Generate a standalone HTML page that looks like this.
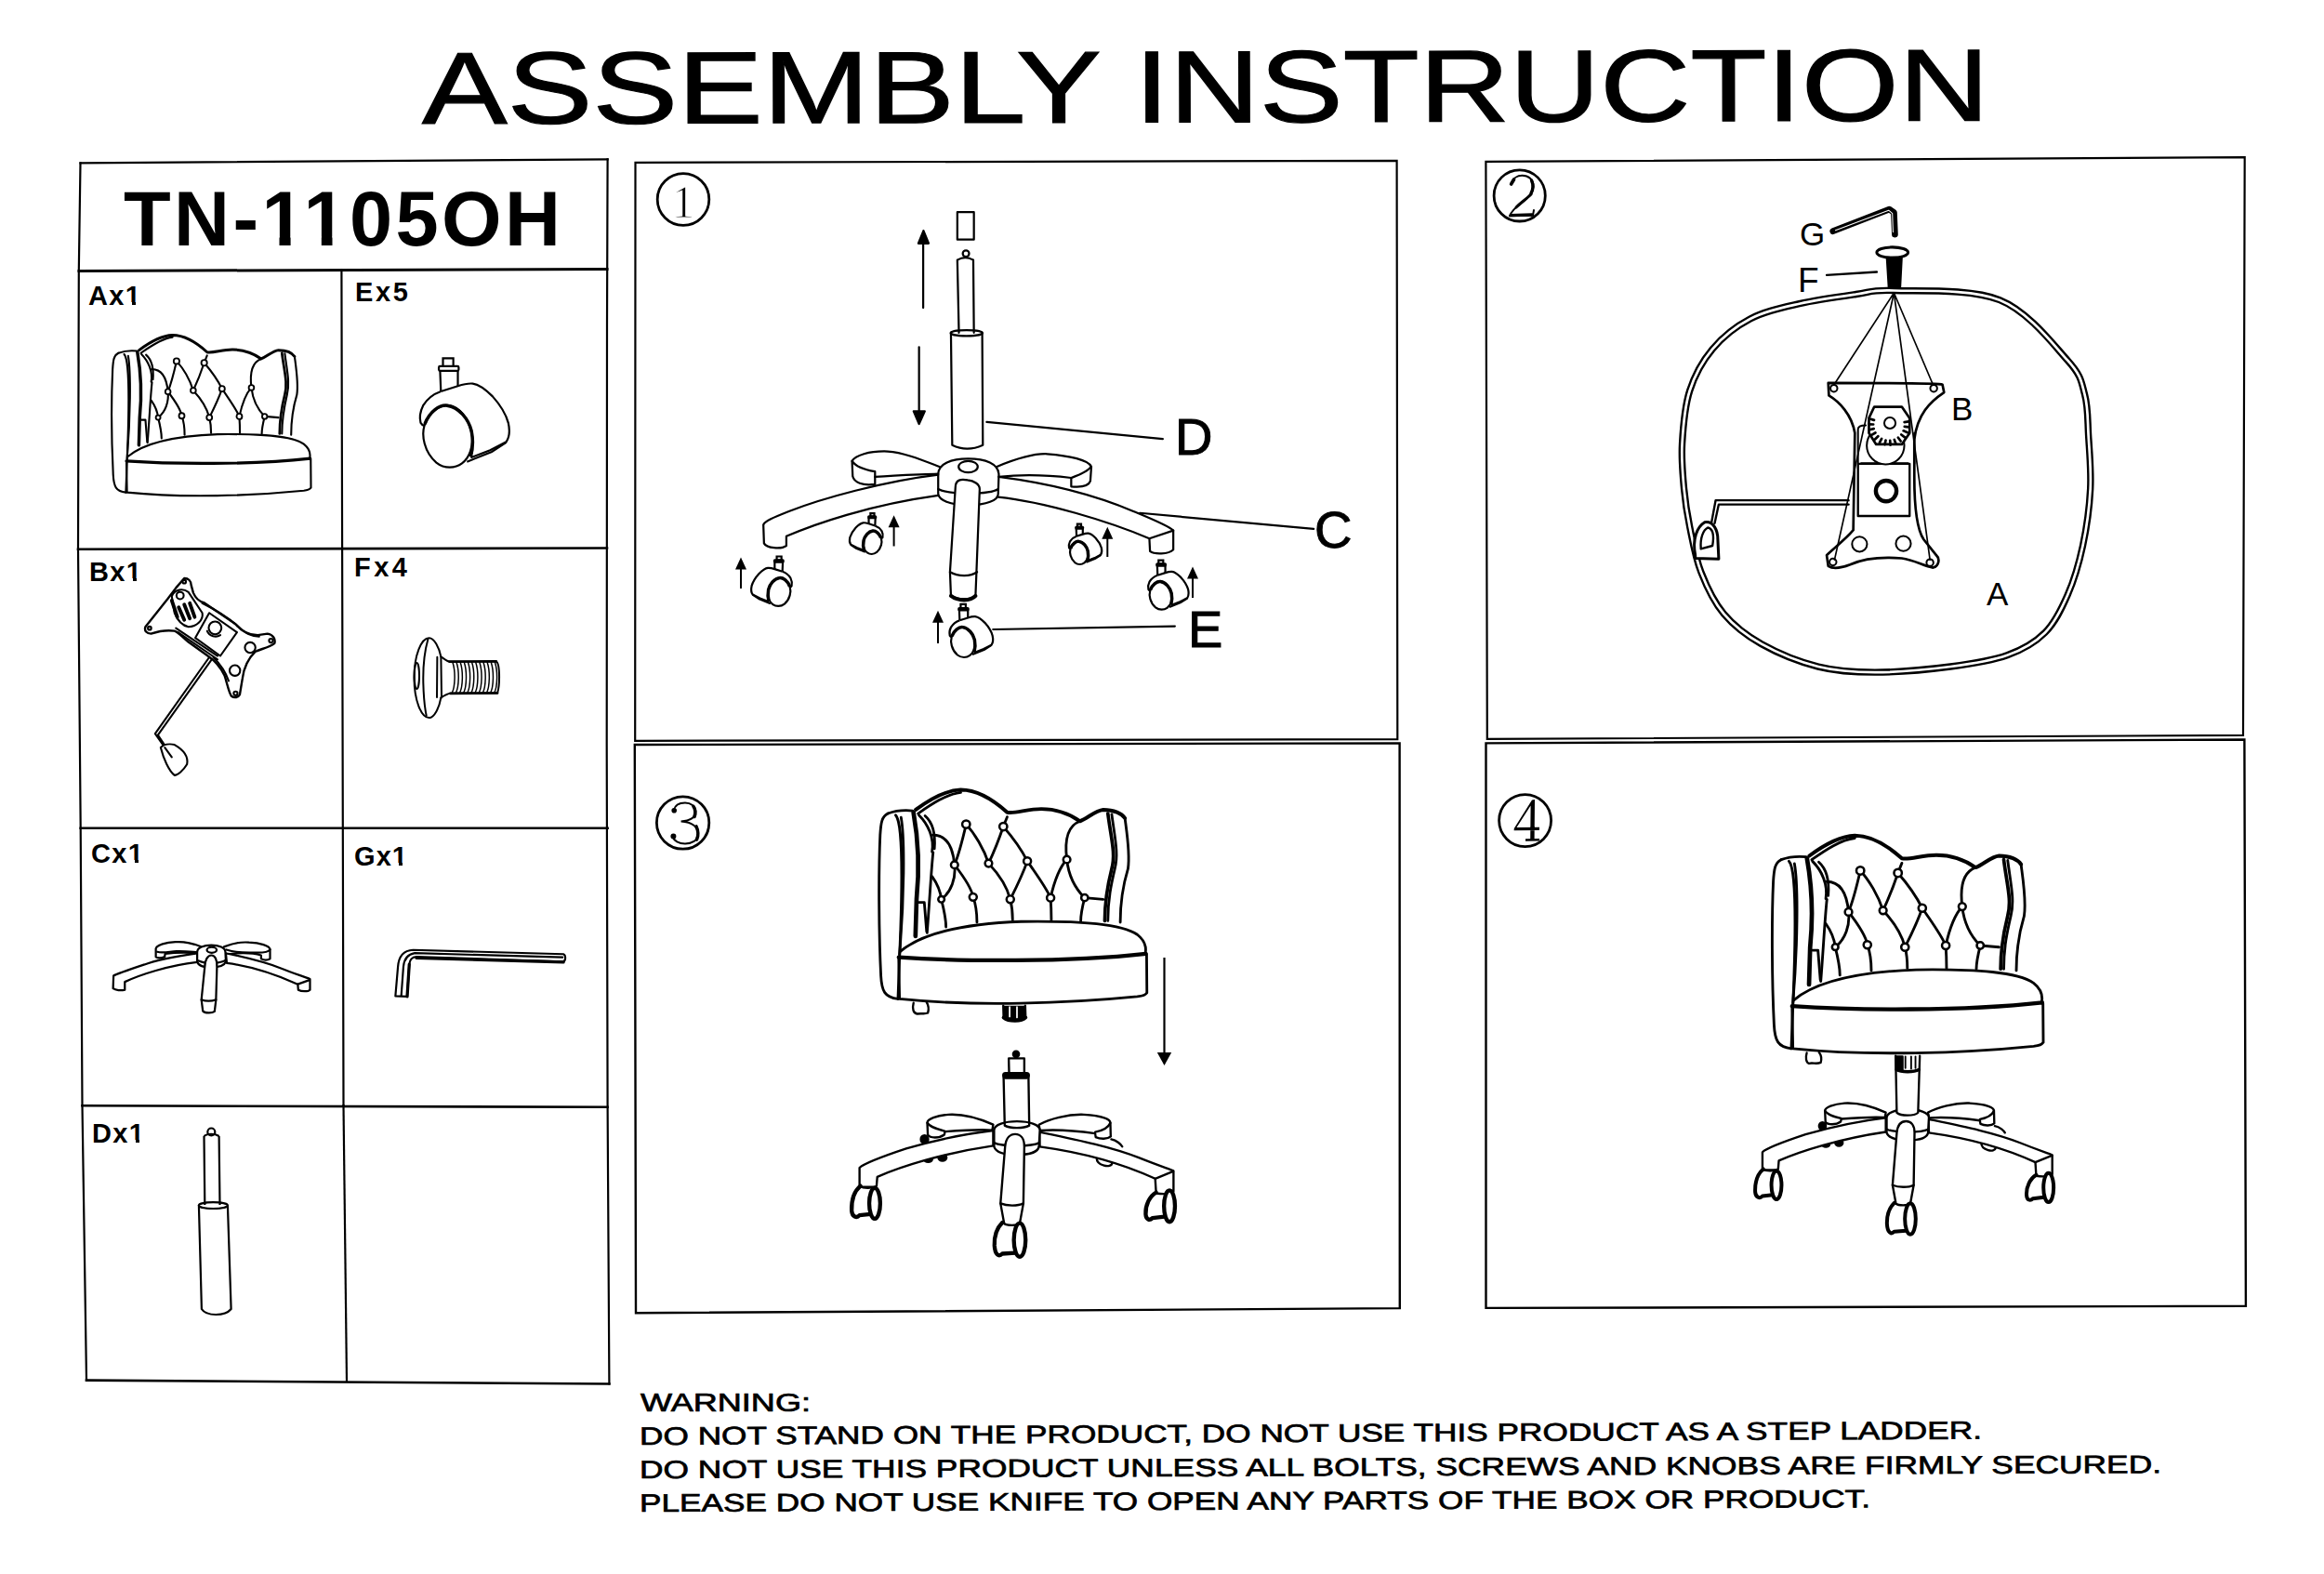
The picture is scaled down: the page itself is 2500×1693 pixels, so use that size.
<!DOCTYPE html>
<html><head><meta charset="utf-8">
<style>
html,body{margin:0;padding:0;background:#fff;width:2500px;height:1693px;overflow:hidden}
svg{position:absolute;left:0;top:0}
#caster *{vector-effect:non-scaling-stroke;stroke-width:2.2px}
#caster path:nth-of-type(5){stroke-width:3.5px;fill:none}
#caster path:nth-of-type(1),#caster path:nth-of-type(6){fill:none}
</style></head><body>
<svg width="2500" height="1693" viewBox="0 0 2500 1693">
<rect x="0" y="0" width="2500" height="1693" fill="#fff"/>
<defs>
<g id="caster">
<rect x="410" y="120" width="125" height="100" />
<rect x="360" y="215" width="240" height="55" rx="15"/>
<path d="M375,270 L385,520 M590,270 L590,455"/>
<path d="M385,520 L590,455 C650,435 700,420 770,425 C850,435 930,500 1010,580 C1100,680 1170,790 1200,900 C1220,990 1210,1080 1175,1130 L980,1230 L745,1320"/>
<path d="M385,520 C300,550 220,610 170,690 C135,760 125,840 140,900 C150,920 165,930 185,935"/>
<path d="M185,935 C150,1050 180,1250 330,1380 C430,1460 560,1450 640,1390 C730,1320 780,1180 760,1050 C740,900 650,750 530,700 C420,660 260,720 185,935 Z"/>
<path d="M190,915 C250,760 370,680 460,690 C600,710 720,850 755,1000 C775,1100 770,1220 745,1310" stroke-width="4.5"/>
<path d="M700,1370 L1000,1250 L1175,1135"/>
</g>
<g id="chair" fill="none" stroke="#000" stroke-width="17" stroke-linejoin="round" stroke-linecap="round">
<path d="M140,240 C100,260 95,300 90,380 C80,600 80,1000 95,1300 C100,1400 120,1440 205,1450"/>
<path d="M140,240 C180,225 230,215 300,222"/>
<path d="M190,250 C235,300 235,600 222,1000 L205,1450"/>
<path d="M225,265 C250,400 245,800 215,1160"/>
<path d="M305,232 C335,400 345,600 325,800 L318,1040" stroke-width="28"/>
<path d="M320,215 C420,140 520,88 610,85 C720,85 820,150 910,232 C960,242 1040,210 1130,210 C1230,210 1310,240 1380,290 C1430,270 1480,220 1530,215 C1600,215 1650,240 1670,270" stroke-width="24"/>
<path d="M335,240 C420,180 520,112 610,102"/>
<path d="M1670,270 C1680,350 1705,500 1690,600 C1660,700 1640,800 1640,950"/>
<path d="M1560,240 C1580,400 1612,500 1585,600 C1560,700 1540,800 1540,940" stroke-width="22"/>
<path d="M1585,245 C1605,400 1630,500 1605,600 C1582,700 1560,800 1560,940"/>
<path d="M340,250 C400,310 440,400 425,490"/>
<path d="M380,255 C420,290 450,350 440,470"/>
<path d="M430,380 C520,380 560,460 570,575 C580,660 550,750 485,800"/>
<path d="M340,820 L375,820 L390,1010"/>
<path d="M432,494 C420,600 410,800 393,1019"/>
<path d="M645,310 C620,420 600,500 570,575 M645,310 C700,370 760,470 790,565 M885,325 C860,400 830,480 790,565 M885,325 C950,400 1000,470 1040,550 M910,262 L885,325"/>
<path d="M570,575 C620,640 680,720 690,785 M790,565 C860,640 910,720 930,800 M1040,550 C1010,640 960,740 930,800 M1040,550 C1100,640 1160,720 1190,790 M1295,540 C1240,600 1210,700 1190,790"/>
<path d="M1380,290 C1300,320 1280,420 1295,540 C1310,680 1380,760 1410,790 L1530,800"/>
<path d="M425,650 C460,700 480,750 485,800 C500,860 515,920 515,980 M690,785 C710,840 715,900 715,950 M930,800 C945,860 945,900 945,935 M1190,790 C1195,860 1195,900 1195,935 M1410,790 C1395,850 1385,900 1385,940"/>
<g fill="#fff" stroke-width="15">
<circle cx="645" cy="310" r="25"/><circle cx="885" cy="325" r="25"/><circle cx="570" cy="575" r="23"/><circle cx="790" cy="565" r="23"/><circle cx="1040" cy="550" r="24"/><circle cx="1295" cy="540" r="23"/><circle cx="485" cy="800" r="20"/><circle cx="690" cy="785" r="24"/><circle cx="930" cy="800" r="24"/><circle cx="1190" cy="790" r="24"/><circle cx="1410" cy="790" r="22"/>
</g>
<path d="M220,1140 C350,1030 600,960 1000,945 C1400,940 1650,960 1750,1030 C1800,1070 1810,1120 1800,1160"/>
<path d="M210,1178 C600,1205 1300,1212 1805,1155" stroke-width="26"/>
<path d="M210,1190 L215,1450 M1810,1160 L1812,1410 C1800,1425 1790,1430 1750,1435 C1300,1480 700,1500 215,1450"/>
</g>

<g id="base">
<path d="M855,760 C800,735 700,700 610,705 C545,710 495,730 495,750 L498,815 C510,835 560,835 588,815 L592,798 C700,790 780,785 850,790 Z" fill="#fff"/>
<path d="M495,750 C510,775 550,785 590,795"/>
<path d="M1105,760 C1160,730 1260,702 1350,705 C1430,710 1495,725 1495,750 L1497,825 C1480,840 1440,840 1415,828 L1412,808 C1300,792 1200,786 1110,792 Z" fill="#fff"/>
<path d="M1495,750 C1480,785 1440,795 1412,800"/>
<ellipse cx="500" cy="948" rx="22" ry="16" fill="#000"/><ellipse cx="578" cy="940" rx="22" ry="18" fill="#000"/>
<ellipse cx="480" cy="840" rx="20" ry="22" fill="#000"/>
<path d="M1420,940 C1420,985 1500,1000 1505,970" />
<path d="M1500,840 C1530,845 1555,870 1560,880"/>
<path d="M855,792 C700,810 520,850 380,890 C260,930 150,970 125,995 L125,1095 C150,1110 195,1108 218,1095 L222,1045 C350,990 580,915 855,875 Z" fill="#fff"/>
<path d="M1108,800 C1300,840 1500,880 1650,940 C1750,980 1810,1000 1840,1012 L1840,1125 C1820,1140 1780,1140 1745,1135 L1740,1055 C1600,990 1400,920 1110,880 Z" fill="#fff"/>
<path d="M1740,1055 L1838,1015"/>
<path d="M860,790 C860,760 920,742 985,742 C1050,742 1110,760 1110,790 L1105,880 C1100,910 1050,925 985,925 C920,925 870,910 860,880 Z" fill="#fff"/>
<path d="M862,860 C900,880 1070,880 1105,860"/>
<path d="M915,1300 L895,1190 L920,880 C925,830 950,812 975,812 C1005,812 1025,835 1025,880 L1020,1190 L1000,1300 C985,1312 930,1312 915,1300 Z" fill="#fff"/>
<path d="M895,1190 C930,1205 990,1205 1020,1190"/>
<path d="M130,1095 C100,1120 80,1170 82,1230 C85,1265 110,1272 125,1255 L185,1248" stroke-width="22"/>
<path d="M130,1100 L205,1100"/>
<ellipse cx="208" cy="1190" rx="30" ry="84" stroke-width="22" fill="#fff"/>
<path d="M905,1295 C880,1320 860,1360 862,1420 C865,1470 885,1485 905,1465 L975,1460" stroke-width="22"/>
<ellipse cx="1000" cy="1390" rx="32" ry="92" stroke-width="22" fill="#fff"/>
<path d="M1745,1130 C1710,1150 1685,1200 1688,1250 C1690,1280 1710,1285 1725,1270 L1790,1262" stroke-width="22"/>
<ellipse cx="1818" cy="1205" rx="30" ry="86" stroke-width="22" fill="#fff"/>
</g>
</defs>

<!-- title -->
<text x="454" y="133" font-family="Liberation Sans" font-size="110" textLength="731" lengthAdjust="spacingAndGlyphs" fill="#000" stroke="#000" stroke-width="1.2" transform="rotate(-0.1 454 133)">ASSEMBLY</text>
<text x="1220.5" y="131.5" font-family="Liberation Sans" font-size="110" textLength="919.3" lengthAdjust="spacingAndGlyphs" fill="#000" stroke="#000" stroke-width="1.2" transform="rotate(-0.12 1220 131.5)">INSTRUCTION</text>

<!-- parts table lines -->
<g fill="none" stroke="#000" stroke-width="2.2" stroke-linecap="square">
<polyline points="86.5,175.4 84.8,291 84,590 86.7,890 88.5,1189 93,1484.6"/>
<polyline points="653.6,171.3 653,350 652.7,800 653.6,1189 655.4,1488.5"/>
<line x1="86.5" y1="175.4" x2="653.6" y2="171.3"/>
<line x1="85" y1="291.5" x2="653" y2="289.4" stroke-width="3"/>
<line x1="367.4" y1="290" x2="369.5" y2="1189"/>
<line x1="369.5" y1="1189" x2="373" y2="1486"/>
<line x1="84" y1="590.8" x2="653" y2="589.5" stroke-width="2.6"/>
<line x1="86.7" y1="890.8" x2="653.6" y2="890.7" stroke-width="2.6"/>
<line x1="88.5" y1="1189.3" x2="653.6" y2="1190.7" stroke-width="2.6"/>
<line x1="93" y1="1484.6" x2="655.4" y2="1488.5" stroke-width="2.6"/>
</g>
<!-- step boxes -->
<g fill="none" stroke="#000" stroke-width="2.2" stroke-linejoin="miter">
<polygon points="683.5,174.8 1502.6,172.9 1503.3,795.1 683.2,796.8"/>
<polygon points="682.8,801 1505.6,799.4 1505.8,1407.1 684,1412.3" stroke-width="2.4"/>
<polygon points="1598.4,173.8 2414.7,169.2 2413,790.9 1599.8,794.9"/>
<polygon points="1598.5,799.4 2414.4,795.5 2415.9,1404.8 1598.5,1406.9" stroke-width="2.4"/>
</g>
<!-- model -->
<text x="133" y="264" font-family="Liberation Sans" font-weight="bold" font-size="83" textLength="470" lengthAdjust="spacing" fill="#000">TN-1105OH</text>
<g fill="#fff"><rect x="285" y="254.5" width="15.5" height="11"/><rect x="312.6" y="254.5" width="14" height="11"/><rect x="330.5" y="254.5" width="15.3" height="11"/><rect x="357.5" y="254.5" width="14" height="11"/></g>
<!-- labels -->
<g font-family="Liberation Sans" font-weight="bold" font-size="29" fill="#000">
<text x="95" y="327.5" textLength="56" lengthAdjust="spacing">Ax1</text>
<text x="382" y="324" textLength="57" lengthAdjust="spacing">Ex5</text>
<text x="96" y="625" textLength="56" lengthAdjust="spacing">Bx1</text>
<text x="381" y="620" textLength="57" lengthAdjust="spacing">Fx4</text>
<text x="98" y="927.5" textLength="56" lengthAdjust="spacing">Cx1</text>
<text x="381" y="931" textLength="57" lengthAdjust="spacing">Gx1</text>
<text x="99" y="1229" textLength="56" lengthAdjust="spacing">Dx1</text>
</g>
<g fill="#fff"><rect x="136" y="325" width="6" height="4"/><rect x="146" y="325" width="5" height="4"/><rect x="137" y="622" width="6" height="4"/><rect x="147" y="622" width="5" height="4"/><rect x="139" y="925" width="6" height="4"/><rect x="149" y="925" width="5" height="4"/><rect x="423" y="928" width="6" height="4"/><rect x="433" y="928" width="5" height="4"/><rect x="140" y="1226" width="6" height="4"/><rect x="150" y="1226" width="5" height="4"/></g>
<!-- circled numbers -->
<g fill="none" stroke="#000" stroke-width="2.8">
<circle cx="735" cy="214.5" r="27.8"/>
<circle cx="1634.7" cy="210.4" r="27.6"/>
<circle cx="734.6" cy="885" r="28.2"/>
<circle cx="1640.6" cy="882.6" r="28"/>
</g>
<g font-family="Liberation Serif" fill="#000" text-anchor="middle" stroke="#fff" stroke-width="1.2">
<text x="735" y="234" font-size="50">1</text>



</g>
<g fill="#000"><path d="M1648,860.5 L1651,860 L1650.6,903 L1646.2,903 L1646.6,866.5 L1631.5,890 L1656,889.8 L1655.8,893 L1628.6,893.2 L1628.8,891 Z"/><path d="M1641,902.3 L1656,902.1 L1656.2,904.6 L1641,904.8 Z"/></g>
<g fill="none" stroke="#000" stroke-width="2" stroke-linecap="round">
<path d="M724.9,871.5 C726,866 731,863.5 737,863.5 C743,863.5 748.2,867 748.2,873 C748.2,879 743,882.6 732.6,883.5 C745,884 751,890 751,897.2 C751,904 744,907.5 737,907.5 C730,907.5 725,904 723.7,900.4"/>
<path d="M746,867.5 C748,870 748.6,875 747,878.5 M749,889 C751,893 751.5,899 749.5,903" stroke-width="3.6"/>
<circle cx="725.2" cy="871.8" r="1.8" fill="#000"/><circle cx="724.4" cy="899.5" r="2" fill="#000"/>
<path d="M1626,196.5 C1627.5,192 1632,188.8 1637.5,188.8 C1644,188.8 1649.6,193 1649.6,200.7 C1649.6,207 1645,212 1637,218 C1629,224 1625,229 1624.2,232.3 L1649,231.6 L1650,226"/>
<path d="M1647,209 C1642,214 1636,218 1631,223" stroke-width="3"/>
<path d="M1647.5,194 C1649.5,198 1649.5,204 1647,208 M1625,231.6 L1648,231" stroke-width="3.4"/>
<path d="M1625.6,198 L1628.6,193" stroke-width="3.6"/>
</g>
<!-- warning -->
<g font-family="Liberation Sans" font-size="27" fill="#000" stroke="#000" stroke-width="0.7">
<text x="689" y="1518" textLength="183" lengthAdjust="spacingAndGlyphs">WARNING:</text>
<text x="688" y="1554" textLength="1444" lengthAdjust="spacingAndGlyphs" transform="rotate(-0.25 688 1554)">DO NOT STAND ON THE PRODUCT, DO NOT USE THIS PRODUCT AS A STEP LADDER.</text>
<text x="688" y="1590" textLength="1637" lengthAdjust="spacingAndGlyphs" transform="rotate(-0.2 688 1590)">DO NOT USE THIS PRODUCT UNLESS ALL BOLTS, SCREWS AND KNOBS ARE FIRMLY SECURED.</text>
<text x="688" y="1626" textLength="1324" lengthAdjust="spacingAndGlyphs" transform="rotate(-0.2 688 1626)">PLEASE DO NOT USE KNIFE TO OPEN ANY PARTS OF THE BOX OR PRODUCT.</text>
</g>
<!--DRAWINGS-->


<!-- chairs -->
<g fill="none" stroke="#000" stroke-width="17" stroke-linejoin="round" stroke-linecap="round">
<use href="#chair" transform="translate(110,350) scale(0.1239)"/>
<use href="#chair" transform="translate(931.8,835.5) scale(0.16665,0.16479)"/>
<use href="#chair" transform="translate(1892.4,884.4) scale(0.16867,0.16789)"/>
</g>
<!-- step3 base -->
<g transform="translate(900,1060) scale(0.19695)" fill="none" stroke="#000" stroke-width="12" stroke-linejoin="round" stroke-linecap="round">
<use href="#base"/>
<circle cx="980" cy="375" r="16" fill="#000"/>
<path d="M940,398 L942,480 L1025,480 L1025,398 Z" fill="#fff"/>
<rect x="910" y="478" width="140" height="27" rx="12" fill="#000"/>
<path d="M912,505 L918,765 C950,782 1020,782 1052,765 L1048,505"/>
<path d="M420,95 C412,125 418,152 440,155 C465,150 480,158 498,150 C505,130 500,105 490,88"/>
<path d="M910,110 L912,175 C940,198 1010,198 1032,175 L1030,110" fill="#000"/>
<path d="M945,118 L945,170 M985,118 L985,175" stroke="#fff" stroke-width="9"/>
<path d="M912,175 C940,198 1010,198 1032,175" stroke-width="20"/>
</g>
<g fill="none" stroke="#000" stroke-width="2.2"><line x1="1252.5" y1="1030" x2="1252.5" y2="1134"/></g>
<path d="M1252.5,1146 l-7.7,-14 h15.4 Z" fill="#000"/>
<!-- step4 base -->
<g transform="translate(1873.2,1058.4) scale(0.18178)" fill="none" stroke="#000" stroke-width="13" stroke-linejoin="round" stroke-linecap="round">
<use href="#base"/>
</g>
<g transform="translate(1870,1110) scale(0.15491)" fill="none" stroke="#000" stroke-width="15" stroke-linejoin="round" stroke-linecap="round">
<path d="M1092,165 L1100,560 C1130,585 1220,585 1248,560 L1260,165" fill="#fff"/>
<path d="M1095,170 L1095,260 L1140,262 L1140,170 Z" fill="#000"/>
<path d="M1160,170 L1160,250 M1200,170 L1200,255 M1230,170 L1230,250" stroke-width="12"/>
<path d="M1098,262 C1130,280 1220,280 1255,262" stroke-width="22"/>
<path d="M475,145 C465,180 470,212 490,218 C520,212 545,225 572,212 C580,185 575,160 560,140"/>
</g>

<!-- STEP2 -->
<g transform="translate(1790,210) scale(0.33661)" fill="none" stroke="#000" stroke-width="6" stroke-linejoin="round" stroke-linecap="round">
<g stroke-width="22"><path id="seat2" d="M734.5,304.5 C811.0,307.5 980.1,297.5 1072.7,334.7 C1165.3,371.9 1244.8,477.6 1290.1,527.9 C1335.4,578.2 1333.4,596.3 1344.5,636.6 C1355.6,676.9 1353.6,719.2 1356.6,769.5 C1359.6,819.8 1365.6,880.2 1362.6,938.6 C1359.6,997.0 1350.5,1063.4 1338.4,1119.8 C1326.3,1176.2 1310.2,1230.5 1290.1,1276.8 C1270.0,1323.1 1249.9,1365.4 1217.7,1397.6 C1185.5,1429.8 1147.2,1451.9 1096.9,1470.0 C1046.6,1488.1 986.2,1497.2 915.7,1506.3 C845.2,1515.4 744.6,1524.4 674.1,1524.4 C603.6,1524.4 553.3,1521.4 492.9,1506.3 C432.5,1491.2 362.0,1462.2 311.7,1434.0 C261.4,1405.8 223.1,1375.5 190.9,1337.2 C158.7,1298.9 136.6,1250.7 118.5,1204.4 C100.4,1158.1 91.3,1103.7 82.2,1059.4 C73.1,1015.1 68.1,982.9 64.1,938.6 C60.1,894.3 55.1,846.0 58.1,793.7 C61.1,741.4 66.1,674.9 82.2,624.6 C98.3,574.3 122.5,530.0 154.7,491.7 C186.9,453.4 229.2,419.3 275.5,395.1 C321.8,370.9 376.1,359.8 432.5,346.7 C488.9,333.6 563.4,323.5 613.7,316.5 C664.0,309.5 658.0,301.5 734.5,304.5 Z"/></g>
<use href="#seat2" stroke="#fff" stroke-width="8"/>
<path d="M590,975 L165,975 L152,1045 M590,988 L175,988 L162,1048" stroke-width="7"/>
<path d="M100,1150 C90,1100 105,1060 130,1045 C158,1040 172,1070 172,1100 L175,1162 L100,1160 Z" stroke-width="9" fill="#fff"/>
<path d="M118,1130 C115,1095 125,1070 140,1062 C158,1065 160,1090 155,1120 Z" stroke-width="7"/>
<path d="M525,600 L527,640 C560,660 600,700 610,760 L605,1070 C580,1100 540,1130 520,1150 L525,1185 C540,1195 570,1190 595,1180 C640,1160 700,1155 760,1160 C800,1165 830,1185 860,1190 C880,1185 882,1160 870,1150 L830,1100 C810,1070 800,1000 800,900 L800,780 C810,700 850,660 895,630 L890,605 C880,600 540,600 525,600 Z" stroke-width="8" fill="#fff"/>
<circle cx="543" cy="617" r="11"/><circle cx="862" cy="617" r="11"/><circle cx="540" cy="1172" r="11"/><circle cx="850" cy="1174" r="11"/>
<circle cx="625" cy="1115" r="24"/><circle cx="765" cy="1113" r="24"/>
<rect x="620" y="858" width="165" height="167" stroke-width="7"/>
<circle cx="710" cy="945" r="33" stroke-width="13"/>
<path d="M620,855 L620,748 C620,738 630,735 645,735 M800,858 L800,760 M630,856 L780,856"/>
<circle cx="708" cy="800" r="60" fill="#fff"/>
<path d="M672,676 L760,676 L785,712 L785,760 L760,796 L678,796 L655,760 L655,712 Z" fill="#fff" stroke-width="8"/>
<path d="M768.2,725.3 L782.0,722.9 M768.7,739.2 L782.6,740.7 M765.4,752.7 L778.3,758.0 M758.4,764.8 L769.4,773.4 M748.4,774.5 L756.6,785.8 M736.1,781.0 L740.9,794.1 M722.5,783.9 L723.5,797.8 M708.6,782.9 L705.7,796.6 M695.5,778.1 L689.0,790.5 M684.3,770.0 L674.5,780.0 M675.7,759.0 L663.6,766.0 M670.5,746.1 L656.9,749.5 M669.0,732.3 L655.0,731.8 M671.4,718.5 L658.1,714.2" stroke-width="8"/>
<circle cx="722" cy="728" r="18"/>
<path d="M735,312 L543,606 M735,312 L860,606 M735,312 L545,1165 M735,312 L850,1165" stroke-width="5"/>
<ellipse cx="730" cy="183" rx="50" ry="17" stroke-width="9" fill="#fff"/>
<path d="M712,198 L718,295 L755,295 L760,198 Z" fill="#000"/>
<path d="M520,255 L680,245" stroke-width="7"/>
<path d="M540,115 L720,45 L735,55 L738,125" stroke-width="20"/>
<path d="M548,112 L718,48 L730,58 L732,118" stroke-width="3" stroke="#fff"/>
</g>
<g font-family="Liberation Sans" fill="#000">
<text x="1936" y="264" font-size="35">G</text>
<text x="1934" y="314" font-size="37">F</text>
<text x="2099" y="452" font-size="35">B</text>
<text x="2137" y="651" font-size="35">A</text>
</g>

<!-- PART B -->
<g transform="translate(140,610) scale(0.14925)" fill="none" stroke="#000" stroke-width="14" stroke-linejoin="round" stroke-linecap="round">
<path d="M390,80 C420,80 440,100 440,130 L455,185 C470,220 490,245 530,255 L760,410 C800,460 850,490 920,490 L990,480 C1030,485 1050,520 1040,550 C1000,580 940,590 900,610 C850,660 820,720 810,800 L790,920 C780,940 750,945 730,930 C710,900 700,840 680,780 C650,720 620,680 560,640 L420,540 C380,510 350,470 320,460 C250,450 180,470 150,480 C120,480 100,460 110,430 L270,230 L330,150 Z" stroke-width="16"/>
<circle cx="140" cy="440" r="12"/><circle cx="390" cy="105" r="12"/><circle cx="1015" cy="530" r="14"/><circle cx="760" cy="910" r="14"/>
<circle cx="865" cy="580" r="38"/><circle cx="755" cy="745" r="38"/>
<path d="M520,260 C600,300 700,360 770,420 C820,470 880,500 930,500"/>
<path d="M600,650 C650,700 690,760 710,820"/>
<path d="M470,510 L570,330 L770,470 L650,640 Z"/>
<circle cx="612" cy="438" r="46"/>
<path d="M555,460 C570,500 620,510 650,490"/>
<path d="M330,440 L630,640 M345,470 L630,665"/>
<path d="M300,210 C320,160 380,150 420,180 L520,330 C530,380 480,430 420,430 C370,420 340,380 320,330 Z" fill="#fff"/>
<circle cx="360" cy="205" r="26"/>
<path d="M300,240 L340,360 M350,290 L390,380 M390,270 L430,370 M430,260 L465,360" stroke-width="26"/>
<path d="M570,650 L180,1200 L240,1285 M590,662 L200,1210 L255,1292"/>
<path d="M220,1300 C240,1280 280,1270 320,1280 C390,1320 420,1370 410,1420 C380,1470 340,1500 320,1500 C280,1470 240,1380 220,1300 Z" fill="#fff"/>
<path d="M250,1300 L300,1370"/>
</g>

<!-- PART F -->
<g transform="translate(435,675) scale(0.06671)" fill="none" stroke="#000" stroke-width="30" stroke-linejoin="round" stroke-linecap="round">
<path d="M400,168 C270,168 158,450 158,810 C158,1170 270,1455 400,1455 C480,1455 560,1300 590,1130 L600,1130 L590,470 C560,320 480,168 400,168 Z"/>
<path d="M380,190 C320,400 300,700 305,900 C310,1100 330,1300 355,1420"/>
<path d="M530,475 L525,1125"/>
<ellipse cx="200" cy="780" rx="40" ry="210"/>
<path d="M590,470 C650,510 690,545 730,550 L1480,545 C1510,560 1530,640 1530,800 C1530,900 1520,1000 1500,1055 L740,1062 C700,1065 640,1100 590,1130"/>
<path d="M780,565 C825,700 820,950 770,1050 M842,565 C887,700 882,950 832,1050 M904,565 C949,700 944,950 894,1050 M966,565 C1011,700 1006,950 956,1050 M1028,565 C1073,700 1068,950 1018,1050 M1090,565 C1135,700 1130,950 1080,1050 M1152,565 C1197,700 1192,950 1142,1050 M1214,565 C1259,700 1254,950 1204,1050 M1276,565 C1321,700 1316,950 1266,1050 M1338,565 C1383,700 1378,950 1328,1050 M1400,565 C1445,700 1440,950 1390,1050 M1462,565 C1507,700 1502,950 1452,1050" stroke-width="22"/>
<path d="M730,550 L1480,545 M740,1062 L1500,1055" stroke-width="40"/>
</g>

<!-- PART C -->
<g transform="translate(110,1000) scale(0.10112)" fill="none" stroke="#000" stroke-width="22" stroke-linejoin="round" stroke-linecap="round">
<path d="M1045,178 C950,140 850,125 780,130 C680,135 580,160 570,200 L570,290 C590,302 630,302 665,288 L668,255 C750,245 850,238 1010,248" fill="#fff"/>
<path d="M585,235 C640,250 700,235 790,228 C880,225 950,235 1010,240"/>
<path d="M1295,182 C1400,140 1500,130 1560,135 C1680,140 1780,170 1785,210 L1785,310 C1760,325 1720,325 1690,310 L1690,272 C1600,245 1500,238 1320,262" fill="#fff"/>
<path d="M1320,212 C1400,240 1500,245 1600,243 C1700,248 1770,240 1785,210"/>
<path d="M1010,250 C800,280 600,310 450,370 C300,420 150,470 120,490 L115,625 C140,645 200,650 240,640 L240,555 C400,480 700,380 1010,345 Z" fill="#fff"/>
<path d="M1315,250 C1500,290 1700,330 1900,410 C2050,470 2150,500 2210,525 L2210,640 C2190,660 2120,660 2085,640 L2080,580 C1900,500 1600,390 1325,355 Z" fill="#fff"/>
<path d="M2080,580 L2205,535"/>
<path d="M1010,240 C1010,190 1080,165 1160,165 C1240,165 1310,190 1310,240 L1315,340 C1300,380 1240,400 1160,400 C1080,400 1020,380 1010,340 Z" fill="#fff"/>
<ellipse cx="1165" cy="215" rx="52" ry="30"/>
<path d="M1020,330 C1050,345 1080,350 1100,352 M1215,352 C1260,345 1300,335 1315,322"/>
<path d="M1055,745 L1090,400 C1090,320 1125,272 1160,272 C1200,272 1225,320 1220,400 L1210,745 L1195,870 C1170,890 1090,890 1070,865 Z" fill="#fff"/>
<path d="M1055,745 C1100,760 1160,760 1210,745"/>
</g>

<!-- PART G -->
<g transform="translate(410,1010) scale(0.09036)" fill="none" stroke="#000" stroke-width="24" stroke-linejoin="round" stroke-linecap="round">
<path d="M170,680 L200,330 C210,200 280,135 380,130 L2170,180 C2200,190 2200,260 2170,270 L420,210 C370,215 340,250 335,300 L310,685 Z"/>
<path d="M240,672 L265,330 C275,230 320,180 400,168 L2160,218"/>
<path d="M420,225 L2170,275 M335,300 L310,685" stroke-width="36"/>
</g>
<!-- PART D -->
<g fill="none" stroke="#000" stroke-width="2.2" stroke-linejoin="round">
<circle cx="227.3" cy="1217.5" r="4"/>
<path d="M219.5,1222 C223,1219 231,1219 235.6,1222 M219.5,1222 L220.3,1296 M235.6,1222 L236.5,1296"/>
<path d="M213.9,1296 L216.9,1408 C222,1416 242,1416 248.6,1408 L244.9,1296"/>
<ellipse cx="229.4" cy="1296.6" rx="15.5" ry="3.4"/>
</g>
<!-- STEP1 -->
<g transform="translate(780,200) scale(0.34317)" fill="none" stroke="#000" stroke-width="6.5" stroke-linejoin="round" stroke-linecap="round">
<rect x="728" y="82" width="52" height="86"/>
<path d="M621,178 L621,382 M608,505 L608,712"/>
<path d="M622,140 L606,180 L638,180 Z M608,746 L591,706 L626,706 Z" fill="#000"/>
<path d="M728,232 L733,460 M778,232 L780,460 M728,232 Q753,218 778,232"/>
<circle cx="755" cy="212" r="10"/>
<path d="M708,462 L712,812 Q758,835 808,812 L806,462"/>
<ellipse cx="757" cy="461" rx="50" ry="9"/>
<path d="M820,740 L1372,793 M1300,1025 L1845,1075 M840,1390 L1410,1380"/>
<path d="M668,905 C668,870 710,855 762,855 C815,855 858,870 858,905 L856,965 C856,985 820,1000 762,1000 C705,1000 670,985 668,965 Z" fill="#fff"/>
<ellipse cx="762" cy="880" rx="30" ry="18"/>
<path d="M668,950 C700,968 830,968 856,950"/>
<path d="M672,880 C620,860 560,835 510,832 C450,830 408,845 398,862 L400,910 C405,930 430,940 470,935 L470,912 C540,905 600,905 668,902"/>
<path d="M398,862 C410,880 440,890 470,895 L470,912"/>
<path d="M852,880 C900,860 960,838 1010,840 C1080,845 1140,860 1148,880 L1145,925 C1140,940 1115,945 1085,942 L1085,915 C1000,905 920,905 858,912"/>
<path d="M1148,880 C1130,900 1110,905 1085,915"/>
<path d="M668,905 C500,925 300,980 200,1020 C150,1040 125,1050 120,1062 L122,1120 C130,1135 175,1140 192,1128 L192,1098 C280,1060 450,1000 668,970"/>
<path d="M858,912 C1000,930 1150,965 1280,1020 C1340,1045 1390,1065 1405,1080 L1405,1140 C1390,1155 1345,1155 1332,1145 L1330,1105 C1200,1050 1000,990 856,975"/>
<path d="M1330,1105 L1405,1080"/>
<path d="M722,945 C722,920 740,918 760,922 C780,924 798,935 798,950 L788,1210 L785,1285 C770,1298 725,1298 708,1285 L705,1210 Z" fill="#fff"/>
<path d="M705,1210 C730,1225 770,1225 790,1210"/>
<path d="M708,1285 C730,1302 770,1302 785,1285" stroke-width="12"/>
</g>
<g font-family="Liberation Sans" font-size="56" fill="#000" stroke="#000" stroke-width="1">
<text x="1264" y="489">D</text>
<text x="1414" y="589">C</text>
<text x="1278" y="696">E</text>
</g>
<g fill="none" stroke="#000" stroke-width="2">
<line x1="797" y1="612" x2="797" y2="633"/><line x1="961.6" y1="567" x2="961.6" y2="587.5"/>
<line x1="1191.3" y1="579" x2="1191.3" y2="599"/><line x1="1283" y1="622" x2="1283" y2="643"/><line x1="1009" y1="669" x2="1009" y2="692"/>
</g>
<g fill="#000">
<path d="M797,599.5 l-6,13 h12 Z"/><path d="M961.6,554.3 l-6,13 h12 Z"/><path d="M1191.3,566.7 l-6,13 h12 Z"/><path d="M1283,609.4 l-6,13 h12 Z"/><path d="M1009,656.8 l-6,13 h12 Z"/>
</g>
<g fill="#fff" stroke="#000" class="cst">
<use href="#caster" transform="translate(852,598.3) scale(-0.04057,0.04057) translate(-130,-115)"/>
<use href="#caster" transform="translate(949.8,552) scale(-0.03318,0.03318) translate(-130,-115)"/>
<use href="#caster" transform="translate(1149.7,563.5) scale(0.03283) translate(-130,-115)"/>
<use href="#caster" transform="translate(1235,602.4) scale(0.0403) translate(-130,-115)"/>
<use href="#caster" transform="translate(1021.3,649.7) scale(0.04333) translate(-130,-115)"/>
</g>
<!-- part E -->
<g fill="#fff" stroke="#000" class="cst2">
<use href="#caster" transform="translate(451.6,385) scale(0.08897) translate(-130,-115)"/>
</g>

</svg>
</body></html>
